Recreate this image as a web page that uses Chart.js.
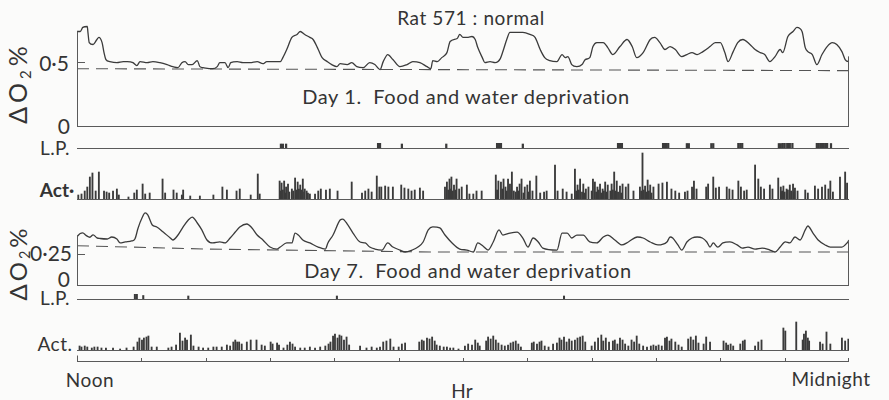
<!DOCTYPE html>
<html>
<head>
<meta charset="utf-8">
<script src="https://cdn.jsdelivr.net/npm/chart.js@4.4.1/dist/chart.umd.min.js"></script>
<style>
  html, body { margin: 0; padding: 0; background: #fbfbfa; }
  #fig { position: relative; width: 889px; height: 400px; overflow: hidden; background: #fbfbfa; font-family: Lato, "Open Sans", sans-serif; color: #343434; }
  #fig canvas { position: absolute; left: 0; }
  .lbl { position: absolute; white-space: nowrap; line-height: 1; }
  .c { transform: translate(-50%, -50%); }
  .r { transform: translate(-100%, -50%); }
  .rot { transform: translate(-50%, -50%) rotate(-90deg); }
  sub { font-size: 60%; vertical-align: -0.25em; }
</style>
</head>
<body>
<div id="fig">
  <div class="lbl c" style="left:471px;top:17px;font-size:19px;letter-spacing:0.6px;">Rat 571 : normal</div>
  <div class="lbl rot" style="left:19px;top:83px;font-size:25px;letter-spacing:4px;">ΔO<sub>2</sub>%</div>
  <div class="lbl r" style="left:69px;top:62px;font-size:21px;">0·5</div>
  <div class="lbl r" style="left:70px;top:125px;font-size:21px;">0</div>
  <div class="lbl c" style="left:466px;top:96px;font-size:20px;letter-spacing:0.6px;">Day 1.&nbsp; Food and water deprivation</div>
  <div class="lbl c" style="left:55px;top:147px;font-size:19px;letter-spacing:0.5px;">L.P.</div>
  <div class="lbl c" style="left:57px;top:189px;font-size:19px;font-weight:700;">Act·</div>
  <div class="lbl rot" style="left:19px;top:263px;font-size:24px;letter-spacing:3px;">ΔO<sub>2</sub>%</div>
  <div class="lbl r" style="left:72px;top:252px;font-size:21px;">0·25</div>
  <div class="lbl r" style="left:70px;top:278px;font-size:21px;">0</div>
  <div class="lbl c" style="left:468px;top:270px;font-size:20px;letter-spacing:0.6px;">Day 7.&nbsp; Food and water deprivation</div>
  <div class="lbl c" style="left:55px;top:297px;font-size:19px;letter-spacing:0.5px;">L.P.</div>
  <div class="lbl c" style="left:55px;top:343px;font-size:19px;letter-spacing:0.5px;">Act.</div>
  <div class="lbl c" style="left:90px;top:379px;font-size:19px;letter-spacing:0.5px;">Noon</div>
  <div class="lbl c" style="left:831px;top:378px;font-size:19px;letter-spacing:0.5px;">Midnight</div>
  <div class="lbl c" style="left:462px;top:390px;font-size:19px;">Hr</div>
</div>
<script>
// ---------------- DATA (hours after noon, values) ----------------
const hourTicks = [0,1,2,3,4,5,6,7,8,9,10,11,12];
const day1O2Ticks = [0.5];
const day7O2Ticks = [0.25];

const day1O2 = [[0.00,0.734],[0.05,0.734],[0.09,0.766],[0.16,0.773],[0.17,0.727],[0.19,0.648],[0.25,0.633],[0.31,0.672],[0.34,0.688],[0.39,0.648],[0.42,0.570],[0.45,0.516],[0.51,0.500],[0.62,0.492],[0.72,0.500],[0.78,0.500],[0.87,0.492],[0.93,0.469],[0.98,0.500],[1.09,0.492],[1.18,0.500],[1.29,0.492],[1.40,0.477],[1.49,0.461],[1.57,0.453],[1.63,0.492],[1.68,0.500],[1.73,0.477],[1.79,0.477],[1.87,0.508],[1.91,0.461],[1.96,0.453],[2.11,0.445],[2.18,0.461],[2.22,0.492],[2.30,0.492],[2.35,0.453],[2.39,0.492],[2.49,0.500],[2.58,0.492],[2.69,0.492],[2.80,0.500],[2.89,0.484],[2.95,0.500],[3.05,0.500],[3.16,0.500],[3.20,0.531],[3.26,0.594],[3.34,0.688],[3.42,0.711],[3.47,0.734],[3.54,0.711],[3.62,0.688],[3.67,0.672],[3.75,0.594],[3.81,0.531],[3.89,0.500],[3.96,0.477],[4.04,0.461],[4.09,0.484],[4.20,0.477],[4.27,0.492],[4.35,0.461],[4.45,0.453],[4.55,0.492],[4.63,0.477],[4.71,0.438],[4.76,0.500],[4.83,0.555],[4.91,0.516],[5.02,0.461],[5.13,0.477],[5.22,0.500],[5.33,0.492],[5.44,0.461],[5.50,0.445],[5.53,0.508],[5.60,0.500],[5.67,0.531],[5.75,0.570],[5.80,0.656],[5.91,0.680],[5.95,0.711],[6.00,0.688],[6.08,0.688],[6.14,0.695],[6.19,0.672],[6.23,0.609],[6.30,0.531],[6.34,0.492],[6.42,0.500],[6.50,0.492],[6.58,0.523],[6.62,0.578],[6.68,0.672],[6.73,0.727],[6.84,0.727],[6.93,0.727],[7.04,0.711],[7.12,0.688],[7.20,0.594],[7.27,0.531],[7.35,0.508],[7.46,0.500],[7.54,0.555],[7.59,0.531],[7.63,0.539],[7.69,0.477],[7.77,0.461],[7.85,0.477],[7.90,0.516],[7.97,0.531],[8.02,0.617],[8.08,0.648],[8.18,0.648],[8.25,0.609],[8.33,0.555],[8.44,0.617],[8.55,0.672],[8.63,0.617],[8.70,0.531],[8.80,0.570],[8.91,0.672],[8.98,0.688],[9.06,0.648],[9.14,0.594],[9.22,0.617],[9.30,0.594],[9.40,0.539],[9.48,0.555],[9.56,0.570],[9.64,0.555],[9.73,0.578],[9.84,0.617],[9.92,0.648],[10.00,0.648],[10.07,0.570],[10.12,0.500],[10.20,0.578],[10.27,0.648],[10.35,0.672],[10.46,0.633],[10.54,0.594],[10.62,0.570],[10.69,0.555],[10.77,0.500],[10.85,0.539],[10.93,0.594],[10.97,0.570],[11.05,0.695],[11.13,0.734],[11.19,0.766],[11.27,0.734],[11.32,0.609],[11.36,0.578],[11.43,0.555],[11.50,0.477],[11.58,0.555],[11.66,0.617],[11.74,0.648],[11.81,0.633],[11.89,0.578],[11.94,0.516],[11.99,0.500],[12.00,0.539]];
const day1Baseline = [[0,0.445],[12,0.430]];

const day7O2 = [[0.00,0.39],[0.05,0.415],[0.09,0.42],[0.14,0.40],[0.20,0.385],[0.25,0.405],[0.31,0.38],[0.36,0.375],[0.47,0.371],[0.54,0.387],[0.62,0.371],[0.67,0.339],[0.75,0.347],[0.85,0.355],[0.90,0.371],[0.95,0.460],[1.01,0.540],[1.06,0.581],[1.10,0.565],[1.17,0.484],[1.24,0.468],[1.34,0.427],[1.45,0.379],[1.49,0.363],[1.57,0.403],[1.65,0.468],[1.73,0.524],[1.79,0.548],[1.87,0.500],[1.94,0.444],[2.02,0.363],[2.11,0.339],[2.22,0.347],[2.30,0.339],[2.38,0.379],[2.46,0.427],[2.53,0.468],[2.64,0.492],[2.72,0.460],[2.80,0.403],[2.89,0.363],[3.00,0.306],[3.11,0.290],[3.16,0.306],[3.26,0.339],[3.34,0.339],[3.39,0.419],[3.44,0.403],[3.51,0.363],[3.62,0.339],[3.75,0.306],[3.86,0.290],[3.90,0.339],[3.98,0.403],[4.09,0.524],[4.13,0.532],[4.21,0.484],[4.29,0.419],[4.40,0.347],[4.48,0.339],[4.55,0.306],[4.63,0.290],[4.74,0.282],[4.83,0.339],[4.91,0.306],[5.02,0.282],[5.10,0.266],[5.21,0.282],[5.30,0.306],[5.38,0.347],[5.46,0.444],[5.53,0.468],[5.64,0.460],[5.72,0.403],[5.83,0.339],[5.95,0.290],[6.06,0.282],[6.16,0.266],[6.23,0.339],[6.31,0.315],[6.39,0.282],[6.47,0.347],[6.56,0.444],[6.62,0.403],[6.73,0.419],[6.84,0.427],[6.93,0.379],[7.01,0.306],[7.09,0.379],[7.17,0.347],[7.24,0.298],[7.46,0.282],[7.54,0.419],[7.62,0.419],[7.69,0.379],[7.77,0.403],[7.87,0.403],[7.97,0.347],[8.08,0.339],[8.18,0.387],[8.25,0.403],[8.36,0.363],[8.47,0.323],[8.57,0.347],[8.71,0.387],[8.80,0.379],[8.91,0.347],[9.03,0.323],[9.17,0.347],[9.22,0.387],[9.26,0.379],[9.34,0.323],[9.40,0.282],[9.48,0.347],[9.56,0.379],[9.64,0.387],[9.72,0.379],[9.79,0.347],[9.84,0.306],[9.89,0.339],[9.96,0.306],[10.04,0.339],[10.15,0.347],[10.26,0.323],[10.34,0.298],[10.43,0.306],[10.54,0.290],[10.65,0.298],[10.77,0.282],[10.85,0.266],[10.93,0.306],[11.01,0.347],[11.08,0.339],[11.16,0.387],[11.24,0.363],[11.32,0.444],[11.36,0.476],[11.44,0.419],[11.52,0.363],[11.63,0.323],[11.71,0.306],[11.81,0.306],[11.89,0.306],[11.97,0.339],[12.00,0.363]];
const day7Baseline = [[0,0.317],[2,0.290],[5.5,0.266],[12,0.266]];

const day1Lever = [[3.17,0.8],[3.20,0.8],[3.25,0.8],[4.68,1],[4.69,1],[4.71,1],[5.05,0.8],[5.74,0.8],[6.53,1],[6.55,1],[6.56,1],[6.58,1],[6.59,1],[6.93,0.8],[8.41,1],[8.43,1],[8.44,1],[8.46,1],[8.47,1],[9.11,1],[9.12,1],[9.14,1],[9.16,1],[9.19,1],[9.48,0.9],[9.51,0.9],[9.86,0.9],[9.89,0.9],[10.28,1],[10.31,1],[10.34,1],[10.91,0.9],[10.94,0.9],[10.97,1],[11.00,1],[11.04,1],[11.05,1],[11.08,1],[11.12,1],[11.50,1],[11.53,1],[11.56,1],[11.58,1],[11.60,1],[11.63,1],[11.66,1],[11.72,0.9]];
const day7Lever = [[0.90,1],[0.93,1],[1.03,0.7],[1.73,0.6],[4.04,0.6],[7.57,0.6]];

const day1Activity = [[0.02,4],[0.07,5],[0.12,8],[0.16,12],[0.20,22],[0.24,26],[0.29,8],[0.34,27],[0.42,8],[0.46,7],[0.50,6],[0.56,8],[0.62,10],[0.65,4],[0.80,2],[0.89,6],[0.93,9],[1.02,15],[1.06,5],[1.13,6],[1.33,20],[1.37,6],[1.50,9],[1.55,6],[1.63,4],[1.65,9],[1.76,3],[1.91,3],[2.12,4],[2.26,12],[2.33,9],[2.48,8],[2.53,10],[2.70,4],[2.81,25],[2.84,5],[3.15,18],[3.16,8],[3.18,16],[3.20,9],[3.22,18],[3.24,6],[3.25,12],[3.28,15],[3.30,7],[3.34,10],[3.36,8],[3.39,21],[3.41,9],[3.43,17],[3.45,10],[3.47,14],[3.49,9],[3.51,20],[3.53,7],[3.54,10],[3.57,8],[3.59,6],[3.62,5],[3.70,5],[3.75,8],[3.79,10],[3.87,9],[3.93,10],[4.05,8],[4.27,17],[4.43,6],[4.48,8],[4.53,10],[4.58,7],[4.66,23],[4.70,12],[4.73,12],[4.79,13],[4.84,12],[4.91,12],[5.04,14],[5.09,11],[5.15,10],[5.20,8],[5.25,9],[5.33,11],[5.38,8],[5.72,12],[5.75,17],[5.77,9],[5.79,20],[5.81,10],[5.82,22],[5.84,8],[5.86,14],[5.88,9],[5.90,20],[5.94,10],[5.98,12],[6.06,14],[6.10,5],[6.16,5],[6.21,8],[6.29,8],[6.51,24],[6.53,9],[6.55,18],[6.59,17],[6.61,10],[6.63,20],[6.66,12],[6.68,8],[6.70,20],[6.73,15],[6.75,9],[6.76,27],[6.79,8],[6.82,7],[6.84,12],[6.86,8],[6.88,15],[6.91,20],[6.94,6],[6.96,12],[7.00,14],[7.02,7],[7.04,18],[7.08,8],[7.14,23],[7.20,6],[7.26,7],[7.30,8],[7.43,34],[7.47,8],[7.55,10],[7.61,7],[7.69,5],[7.74,30],[7.76,8],[7.78,14],[7.80,9],[7.82,20],[7.85,7],[7.87,15],[7.89,6],[7.91,10],[7.95,12],[8.00,8],[8.02,20],[8.05,17],[8.07,7],[8.09,12],[8.11,9],[8.13,15],[8.15,6],[8.17,10],[8.19,8],[8.21,17],[8.23,7],[8.25,14],[8.29,8],[8.31,15],[8.33,9],[8.35,27],[8.37,8],[8.39,18],[8.41,7],[8.44,13],[8.46,6],[8.48,15],[8.53,12],[8.57,15],[8.65,8],[8.75,12],[8.77,8],[8.79,46],[8.81,9],[8.83,13],[8.85,7],[8.87,19],[8.89,8],[8.91,14],[8.93,6],[8.96,12],[9.04,15],[9.10,16],[9.17,17],[9.24,10],[9.30,8],[9.36,6],[9.45,7],[9.49,8],[9.56,12],[9.59,18],[9.63,10],[9.78,12],[9.81,15],[9.89,22],[9.93,11],[9.98,12],[10.10,12],[10.14,10],[10.19,9],[10.28,18],[10.32,12],[10.37,8],[10.41,9],[10.54,34],[10.59,20],[10.63,12],[10.68,10],[10.77,14],[10.81,10],[10.90,21],[10.94,12],[10.95,7],[10.96,8],[10.98,13],[11.00,7],[11.03,10],[11.05,9],[11.08,14],[11.10,8],[11.13,15],[11.14,7],[11.16,11],[11.20,8],[11.32,9],[11.36,6],[11.47,13],[11.52,10],[11.58,12],[11.63,14],[11.68,10],[11.71,18],[11.75,7],[11.86,22],[11.94,27],[11.97,16]];

const day7Activity = [[0.04,4],[0.07,3],[0.12,4],[0.16,3],[0.23,2],[0.27,3],[0.32,3],[0.38,2],[0.45,2],[0.56,2],[0.67,1],[0.77,2],[0.88,3],[0.94,8],[0.97,12],[1.01,10],[1.04,12],[1.08,13],[1.11,14],[1.16,3],[1.24,3],[1.42,2],[1.47,3],[1.54,5],[1.60,17],[1.64,9],[1.68,12],[1.71,10],[1.77,15],[1.81,4],[1.89,3],[1.96,2],[2.04,2],[2.12,3],[2.17,3],[2.25,3],[2.33,5],[2.38,4],[2.43,8],[2.46,10],[2.49,8],[2.52,8],[2.56,6],[2.64,8],[2.70,10],[2.79,10],[2.87,5],[2.92,4],[3.01,8],[3.04,6],[3.11,7],[3.14,5],[3.21,2],[3.27,5],[3.31,8],[3.35,6],[3.39,3],[3.47,2],[3.54,2],[3.62,3],[3.70,2],[3.78,3],[3.86,4],[3.91,6],[3.94,8],[3.98,14],[4.01,16],[4.05,12],[4.08,15],[4.11,14],[4.15,10],[4.19,13],[4.23,5],[4.40,4],[4.50,2],[4.58,3],[4.66,2],[4.71,3],[4.76,8],[4.81,9],[4.87,11],[4.92,3],[5.00,3],[5.05,6],[5.10,7],[5.32,8],[5.36,10],[5.39,9],[5.44,12],[5.48,11],[5.52,13],[5.56,9],[5.59,5],[5.64,4],[5.70,3],[5.75,3],[5.80,2],[5.85,2],[5.93,1],[6.03,4],[6.08,6],[6.14,5],[6.19,10],[6.23,7],[6.26,4],[6.36,9],[6.39,13],[6.43,11],[6.47,14],[6.51,10],[6.55,7],[6.60,5],[6.65,4],[6.70,5],[6.74,7],[6.78,8],[6.82,9],[6.86,6],[6.90,3],[7.07,7],[7.10,8],[7.15,6],[7.19,8],[7.22,9],[7.27,4],[7.33,3],[7.40,6],[7.46,7],[7.50,12],[7.53,10],[7.57,13],[7.61,8],[7.65,11],[7.69,9],[7.74,10],[7.78,12],[7.82,13],[7.86,14],[7.90,8],[8.00,4],[8.05,8],[8.10,12],[8.15,15],[8.18,9],[8.22,12],[8.27,8],[8.33,9],[8.36,10],[8.40,6],[8.44,12],[8.48,10],[8.52,6],[8.57,4],[8.62,10],[8.66,8],[8.70,14],[8.74,6],[8.80,4],[8.86,3],[8.92,4],[8.96,5],[9.00,4],[9.04,5],[9.09,4],[9.14,12],[9.17,13],[9.21,9],[9.24,11],[9.30,8],[9.35,5],[9.40,3],[9.50,11],[9.54,13],[9.58,10],[9.62,14],[9.66,7],[9.74,6],[9.78,13],[9.84,8],[10.05,9],[10.09,7],[10.12,5],[10.16,6],[10.20,4],[10.31,6],[10.35,9],[10.38,10],[10.54,4],[10.59,8],[10.64,10],[10.98,22],[11.01,19],[11.18,28],[11.28,10],[11.30,16],[11.33,19],[11.36,12],[11.38,9],[11.55,8],[11.59,6],[11.65,18],[11.71,6],[11.89,12],[11.94,9],[11.99,11]];

// ---------------- DRAWING ----------------
const INK = '#3b3b3b';
const AXIS = '#5a5a5a';

const framePlugin = {
  id: 'frame',
  afterDatasetsDraw(chart, args, opts) {
    if (!opts || !opts.enabled) return;
    const ctx = chart.ctx, xs = chart.scales.x, ys = chart.scales.y;
    const crisp = v => Math.round(v) + 0.5;
    ctx.save();
    ctx.strokeStyle = AXIS;
    ctx.lineWidth = 1;
    const y0 = crisp(ys.getPixelForValue(0));
    const xa = xs.getPixelForValue(xs.min), xb = xs.getPixelForValue(xs.max);
    ctx.beginPath();
    ctx.moveTo(xa, y0); ctx.lineTo(xb, y0);
    if (opts.sides) {
      const d = chart.data.datasets[0].data;
      const first = d[0], last = d[d.length - 1];
      ctx.moveTo(crisp(xs.getPixelForValue(first.x)), y0);
      ctx.lineTo(crisp(xs.getPixelForValue(first.x)), ys.getPixelForValue(first.y));
      ctx.moveTo(crisp(xs.getPixelForValue(last.x)) - 1, y0);
      ctx.lineTo(crisp(xs.getPixelForValue(last.x)) - 1, ys.getPixelForValue(last.y));
    }
    (opts.ticks || []).forEach(v => {
      const yy = crisp(ys.getPixelForValue(v));
      ctx.moveTo(xa, yy); ctx.lineTo(xa + 8, yy);
    });
    if (opts.hourTicks) {
      xs.ticks.forEach((t, i) => {
        const px = crisp(xs.getPixelForValue(t.value)) - (i === xs.ticks.length - 1 ? 1 : 0);
        ctx.moveTo(px, y0); ctx.lineTo(px, y0 - (i === 0 ? 6 : 3.5));
      });
    }
    ctx.stroke();
    ctx.restore();
  }
};
Chart.register(framePlugin);

const fig = document.getElementById('fig');
function makeChart(top, height, padTop, padBottom, ymax, datasets, frame, type) {
  const c = document.createElement('canvas');
  c.width = 889; c.height = height;
  c.style.top = top + 'px'; c.style.width = '889px'; c.style.height = height + 'px';
  fig.appendChild(c);
  return new Chart(c, {
    type: type,
    data: { datasets: datasets },
    options: {
      responsive: false, animation: false, devicePixelRatio: 1,
      layout: { padding: { left: 77, right: 40, top: padTop, bottom: padBottom } },
      scales: {
        x: { type: 'linear', min: 0, max: 12, display: false, offset: false,
             afterBuildTicks: s => { s.ticks = hourTicks.map(v => ({ value: v })); } },
        y: { type: 'linear', min: 0, max: ymax, display: false }
      },
      plugins: { legend: { display: false }, tooltip: { enabled: false }, title: { display: false }, frame: frame }
    }
  });
}
const pts = arr => arr.map(([x, y]) => ({ x: x, y: y }));
const traceDs = arr => ({ data: pts(arr), borderColor: INK, borderWidth: 1.3, pointRadius: 0, cubicInterpolationMode: 'monotone', fill: false });
const dashDs = arr => ({ data: pts(arr), borderColor: '#555', borderWidth: 1.1, borderDash: [12, 7], pointRadius: 0, tension: 0, fill: false });
const barDs = (arr, w) => ({ data: pts(arr), backgroundColor: INK, borderWidth: 0, barThickness: w, grouped: false });

// Day 1 O2
makeChart(18, 110, 5, 2, 0.8, [traceDs(day1O2), dashDs(day1Baseline)], { enabled: true, sides: true, ticks: day1O2Ticks }, 'line');
// Day 1 lever presses
makeChart(138, 12, 5, 2, 1, [barDs(day1Lever, 1.6)], { enabled: true }, 'bar');
// Day 1 activity
makeChart(150, 51, 1, 2, 48, [barDs(day1Activity, 1.2)], { enabled: true }, 'bar');
// Day 7 O2
makeChart(206, 81, 4.6, 2, 0.6, [traceDs(day7O2), dashDs(day7Baseline)], { enabled: true, sides: true, ticks: day7O2Ticks }, 'line');
// Day 7 lever presses
makeChart(290, 11, 4, 2, 1, [barDs(day7Lever, 1.4)], { enabled: true }, 'bar');
// Day 7 activity
makeChart(318, 34, 2, 2, 30, [barDs(day7Activity, 1.2)], { enabled: true }, 'bar');
// Time axis
makeChart(340, 25, 0, 4.5, 1, [], { enabled: true, hourTicks: true }, 'line');
</script>
</body>
</html>
